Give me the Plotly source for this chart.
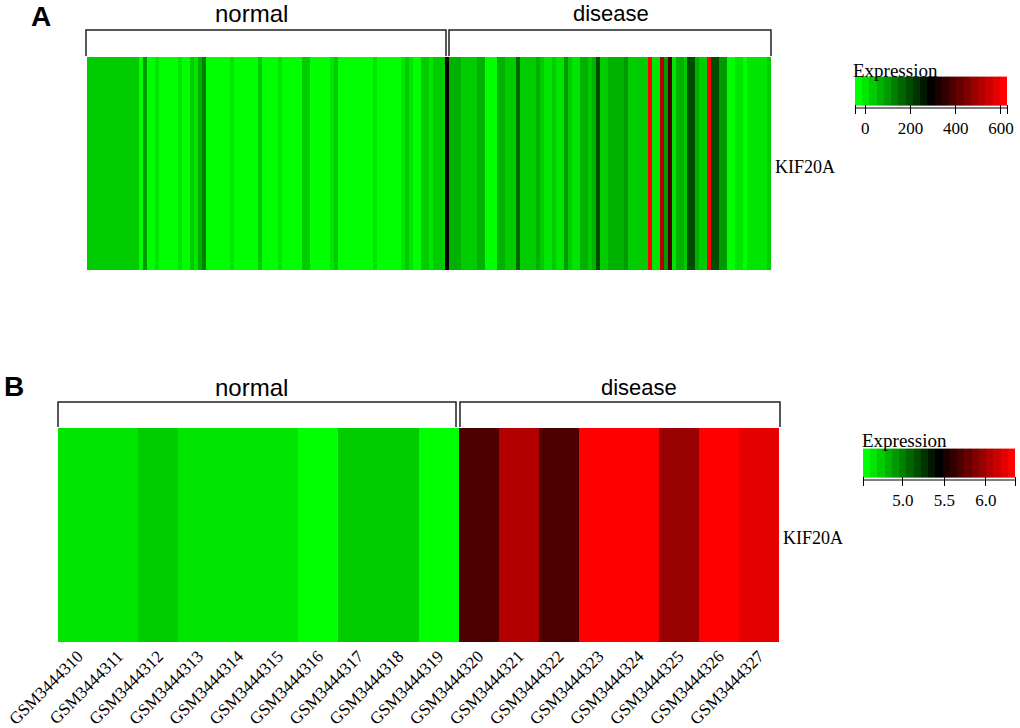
import plotly.graph_objects as go

# panel A: one gene across the samples
normal_a = [30, 26, 32, 28, 30, 34, 28, 32, 26, 30, 34, 28, 30,
            -15, 85, -15, -20, 5, -20, -25, -15, -15, -25, 10, -15, -20, 50, 15,
            60, 130, -15, -25, -15, -20, -25, -15, 5, -20, -25, -15, -20, -15, -20,
            30, -15, -25, -20, -15, 5, -25, -20, -15, -20, -15, 35, 35, -15, -25,
            -20, -15, -20, 5, 40, -15, -25, -20, -20, -15, -25, -20, -15, -20, 5, -25,
            -15, -20, -20, -15, -25, 5, 40, 10, -15, -15, 20, 22, 18, 35, 38, 30, 291]
disease_a = [70, 72, 68, 30, 28, 32, 30, 70, 70, -20, -15, -25, 60, 60,
             25, 28, 25, 170, 45, 42, 48, 45, 70,
             20, 18, 5, 20, 18, 5, 90, 20, 5, 18, 60, 60, 30, 60, 195,
             30, 30, 55, 52, 58, 55, 110, 35, 32, 38, 35, 35,
             620, 15, 15, 500, 100, 400, 5, 80, 80, 40, 190, 190,
             60, 30, 30, 600, 195, 195, 100, 100,
             -20, -25, 5, 5, -20, 8, 5, 10, 5, 12, 25]
samples_a = list(range(len(normal_a) + len(disease_a)))
ticks_a = [-45, 0, 200, 400, 600, 627]
ticklabels_a = ["", "0", "200", "400", "600", ""]

# panel B: array samples
samples_b = ["GSM3444310", "GSM3444311", "GSM3444312", "GSM3444313", "GSM3444314", "GSM3444315",
             "GSM3444316", "GSM3444317", "GSM3444318", "GSM3444319", "GSM3444320", "GSM3444321",
             "GSM3444322", "GSM3444323", "GSM3444324", "GSM3444325", "GSM3444326", "GSM3444327"]
values_b = [4.65, 4.66, 4.78, 4.65, 4.65, 4.66, 4.56, 4.74, 4.74, 4.56,
            5.71, 6.04, 5.71, 6.30, 6.30, 5.96, 6.30, 6.22]
ticks_b = [4.52, 5.0, 5.5, 6.0, 6.35]
ticklabels_b = ["", "5.0", "5.5", "6.0", ""]

W = 1020
H = 728
SERIF = "Liberation Serif"
SANS = "Liberation Sans"


def px_x(x):
    return x / W


def px_y(y):
    return 1 - y / H


# green-black-red in 21 flat steps, like the key in the picture
def stepped_scale(n=21):
    scale = []
    for i in range(n):
        t = i / (n - 1)
        if t < 0.5:
            col = "rgb(0,%d,0)" % round(255 * (1 - 2 * t))
        else:
            col = "rgb(%d,0,0)" % round(255 * (2 * t - 1))
        scale.append([i / n, col])
        scale.append([(i + 1) / n, col])
    return scale


def bar(x0, x1, y_line, ticks, labels):
    return dict(
        orientation="h", lenmode="pixels", len=x1 - x0, thicknessmode="pixels", thickness=29,
        xanchor="left", x=px_x(x0), xref="paper", yanchor="bottom", y=px_y(y_line), yref="paper",
        xpad=0, ypad=0, outlinewidth=0, ticks="outside", ticklen=9, tickwidth=1, tickcolor="black",
        tickmode="array", tickvals=ticks, ticktext=labels,
        tickfont=dict(family=SERIF, size=17, color="black"),
    )


fig = go.Figure()

fig.add_trace(go.Heatmap(
    x=samples_a, y=["KIF20A"], z=[normal_a + disease_a],
    xaxis="x", yaxis="y", zmin=-45, zmax=627, colorscale=stepped_scale(),
    colorbar=bar(855, 1007, 139, ticks_a, ticklabels_a), xgap=0,
))
fig.add_trace(go.Heatmap(
    x=samples_b, y=["KIF20A"], z=[values_b],
    xaxis="x2", yaxis="y2", zmin=4.52, zmax=6.35, colorscale=stepped_scale(),
    colorbar=bar(863, 1015, 511, ticks_b, ticklabels_b), xgap=0,
))

fig.update_layout(
    width=W, height=H, margin=dict(l=0, r=0, t=0, b=0),
    paper_bgcolor="white", plot_bgcolor="white",
    xaxis=dict(domain=[px_x(87), px_x(771)], showticklabels=False, ticks="", showgrid=False, zeroline=False),
    yaxis=dict(domain=[px_y(270), px_y(57)], side="right", anchor="x", ticks="", showgrid=False, showticklabels=False),
    xaxis2=dict(domain=[px_x(58), px_x(779)], anchor="y2", tickangle=-45, ticks="", showgrid=False,
                tickfont=dict(family=SERIF, size=17, color="black"), automargin=False),
    yaxis2=dict(domain=[px_y(642), px_y(428)], side="right", anchor="x2", ticks="", showgrid=False,
                showticklabels=False),
)

# bracket shapes above each group
brackets = [(86, 446, 30, 56), (449, 771, 30, 56), (58, 456, 402, 427), (460, 780, 402, 427)]
for x0, x1, y0, y1 in brackets:
    fig.add_shape(
        type="path", xref="paper", yref="paper",
        path="M %f %f L %f %f L %f %f L %f %f" % (px_x(x0), px_y(y1), px_x(x0), px_y(y0),
                                                  px_x(x1), px_y(y0), px_x(x1), px_y(y1)),
        line=dict(color="#222222", width=1.5),
    )

# key baselines
for x0, x1, y in [(855, 1007, 108), (863, 1015, 480)]:
    fig.add_shape(type="line", xref="paper", yref="paper", x0=px_x(x0), x1=px_x(x1), y0=px_y(y), y1=px_y(y),
                  line=dict(color="black", width=1))

texts = [
    ("A", 41, 16, SANS, 28, True),
    ("B", 14, 386, SANS, 28, True),
    ("normal", 251, 13, SANS, 24, False),
    ("disease", 611, 13, SANS, 22, False),
    ("normal", 251, 387, SANS, 24, False),
    ("disease", 639, 387, SANS, 22, False),
    ("KIF20A", 805, 167, SERIF, 18, False),
    ("KIF20A", 813, 538, SERIF, 18, False),
    ("Expression", 895, 70, SERIF, 19, False),
    ("Expression", 904, 441, SERIF, 19, False),
]
for label, x, y, family, size, bold in texts:
    fig.add_annotation(
        text="<b>%s</b>" % label if bold else label,
        xref="paper", yref="paper", x=px_x(x), y=px_y(y), showarrow=False,
        xanchor="center", yanchor="middle", font=dict(family=family, size=size, color="black"),
    )

fig.write_html("out.html", config=dict(displayModeBar=False), post_script="document.body.style.margin='0';")
